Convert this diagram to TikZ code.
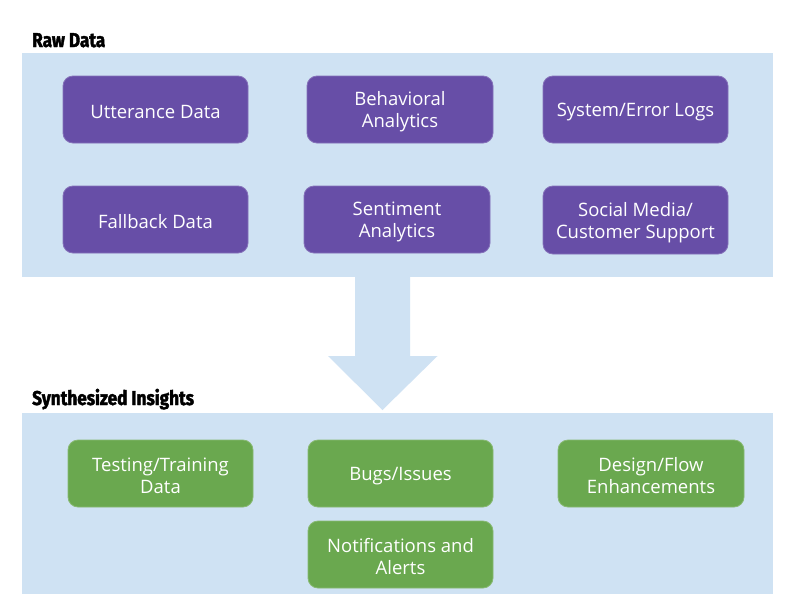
\documentclass[tikz,border=0pt]{standalone}
\usepackage{fontspec}
\setmainfont{Open Sans}
\newfontfamily\headfont[FakeStretch=0.86,BoldFeatures={FakeBold=2}]{Fira Sans}
\definecolor{panelblue}{HTML}{CFE2F3}
\definecolor{rawpurple}{HTML}{674EA7}
\definecolor{insgreen}{HTML}{6AA84F}
\tikzset{
  panel/.style={fill=panelblue, draw=none},
  cardtext/.style={text=white, align=center, inner sep=0pt, yshift=-2.5pt,
    font=\fontsize{18.5}{22}\selectfont},
  card/.style={line width=0.8pt, rounded corners=10pt,
    minimum width=185pt, minimum height=67pt, inner sep=0pt},
  rawbox/.style={card, fill=rawpurple, draw=rawpurple!80!white},
  insbox/.style={card, fill=insgreen, draw=insgreen!80!white},
  heading/.style={anchor=base west, inner sep=0pt, font=\headfont\bfseries\fontsize{20}{24}\selectfont}
}
\begin{document}
\begin{tikzpicture}[x=1pt,y=-1pt]
\useasboundingbox[fill=white] (0,0) rectangle (800,600);
% panels
\path[panel] (22,53) rectangle (773,277);
\path[panel] (22,413) rectangle (773,594);
% arrow
\path[panel] (355,276) -- (410,276) -- (410,356) -- (437.5,356) -- (382.5,410) -- (328,356) -- (355,356) -- cycle;
% headings
\node[heading] (hraw) at (32,47) {Raw Data};
\node[heading] (hins) at (32,405) {Synthesized Insights};
% raw boxes
\node[rawbox, label={[cardtext]center:Utterance Data}] (utt) at (155.5,109.5) {};
\node[rawbox, minimum width=186pt, label={[cardtext]center:Behavioral\\Analytics}] (beh) at (400,109.5) {};
\node[rawbox, label={[cardtext]center:System/Error Logs}] (sys) at (635.5,109.5) {};
\node[rawbox, label={[cardtext]center:Fallback Data}] (fall) at (155.5,219.5) {};
\node[rawbox, minimum width=186pt, label={[cardtext]center:Sentiment\\Analytics}] (sent) at (397,219.5) {};
\node[rawbox, minimum height=68pt, label={[cardtext]center:Social Media/\\Customer Support}] (soc) at (635.5,220) {};
% insight boxes
\node[insbox, label={[cardtext]center:Testing/Training\\Data}] (test) at (160.5,473.5) {};
\node[insbox, label={[cardtext]center:Bugs/Issues}] (bugs) at (400.5,473.5) {};
\node[insbox, minimum width=186pt, label={[cardtext]center:Design/Flow\\Enhancements}] (des) at (651,473.5) {};
\node[insbox, label={[cardtext]center:Notifications and\\Alerts}] (notif) at (400.5,554.5) {};
\end{tikzpicture}
\end{document}
